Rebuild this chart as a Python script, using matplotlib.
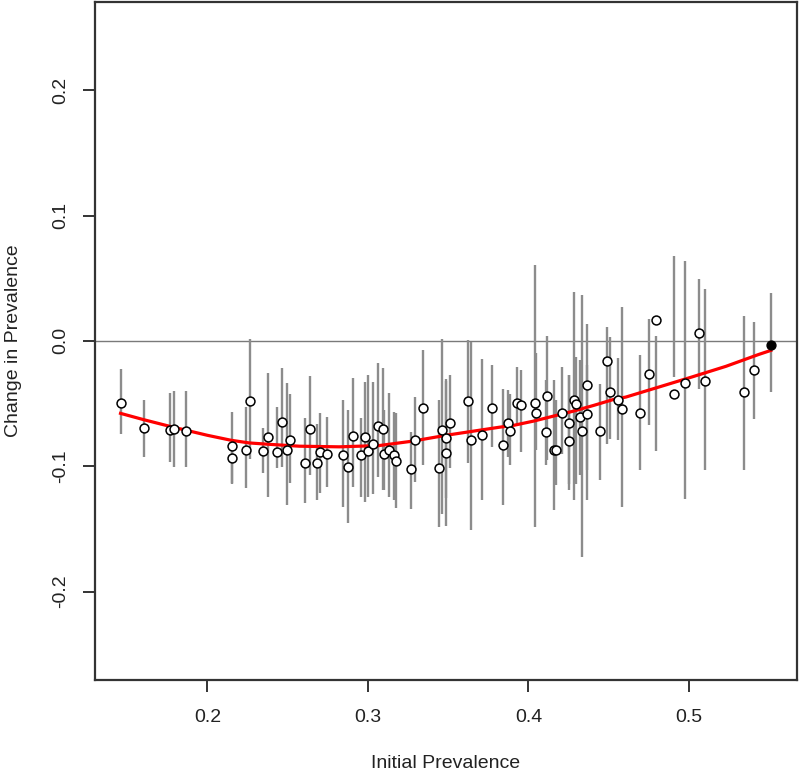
import matplotlib
matplotlib.use("Agg")
import matplotlib.pyplot as plt

plt.rcParams["font.family"] = ["Liberation Sans", "DejaVu Sans"]

# initial prevalence per site
init_prev = [
    0.1463, 0.1604, 0.1768, 0.1795, 0.1867, 0.2154, 0.2154, 0.2268, 0.2243, 0.2344,
    0.2380, 0.2434, 0.2462, 0.2493, 0.2515, 0.2610, 0.2639, 0.2680, 0.2699, 0.2747,
    0.2844, 0.2873, 0.2907, 0.2954, 0.2981, 0.3002, 0.3033, 0.3060, 0.3091, 0.3099,
    0.3133, 0.3164, 0.3178, 0.3271, 0.3292, 0.3344, 0.3446, 0.3464, 0.3485, 0.3487,
    0.3510, 0.3626, 0.3643, 0.3709, 0.3772, 0.3844, 0.3873, 0.3884, 0.3927, 0.3956,
    0.4041, 0.4045, 0.4108, 0.4118, 0.4159, 0.4172, 0.4211, 0.4253, 0.4255, 0.4284,
    0.4294, 0.4321, 0.4332, 0.4367, 0.4367, 0.4446, 0.4491, 0.4506, 0.4559, 0.4584,
    0.4696, 0.4750, 0.4792, 0.4904, 0.4974, 0.5060, 0.5099, 0.5346, 0.5404, 0.5510,
]
# change in prevalence (point estimate)
change = [
    -0.0496, -0.0695, -0.0708, -0.0700, -0.0721, -0.0838, -0.0931, -0.0482, -0.0873, -0.0878,
    -0.0767, -0.0886, -0.0647, -0.0873, -0.0793, -0.0971, -0.0705, -0.0971, -0.0886, -0.0899,
    -0.0907, -0.1006, -0.0761, -0.0912, -0.0767, -0.0878, -0.0819, -0.0681, -0.0700, -0.0906,
    -0.0873, -0.0912, -0.0958, -0.1018, -0.0793, -0.0535, -0.1010, -0.0713, -0.0775, -0.0891,
    -0.0655, -0.0482, -0.0787, -0.0747, -0.0532, -0.0827, -0.0655, -0.0719, -0.0496, -0.0514,
    -0.0496, -0.0575, -0.0727, -0.0440, -0.0873, -0.0873, -0.0575, -0.0655, -0.0798, -0.0474,
    -0.0506, -0.0607, -0.0721, -0.0355, -0.0586, -0.0719, -0.0161, -0.0408, -0.0469, -0.0546,
    -0.0575, -0.0261, 0.0163, -0.0426, -0.0336, 0.0062, -0.0323, -0.0408, -0.0235, -0.0030,
]
# interval bounds
change_hi = [
    -0.0222, -0.0474, -0.0416, -0.0400, -0.0400, -0.0567, -0.0780, 0.0018, -0.0530, -0.0697,
    -0.0257, -0.0530, -0.0219, -0.0339, -0.0426, -0.0615, -0.0283, -0.0665, -0.0578, -0.0607,
    -0.0474, -0.0554, -0.0299, -0.0615, -0.0328, -0.0275, -0.0328, -0.0179, -0.0219, -0.0554,
    -0.0418, -0.0567, -0.0578, -0.0727, -0.0448, -0.0076, -0.0474, 0.0018, -0.0301, -0.0320,
    -0.0275, 0.0004, -0.0010, -0.0142, -0.0195, -0.0381, -0.0394, -0.0421, -0.0209, -0.0235,
    0.0602, -0.0100, -0.0315, 0.0036, -0.0315, -0.0474, -0.0209, -0.0275, -0.0275, 0.0389,
    -0.0129, -0.0155, 0.0363, 0.0137, -0.0195, -0.0341, 0.0110, 0.0030, -0.0139, 0.0269,
    -0.0116, 0.0177, 0.0036, 0.0681, 0.0636, 0.0496, 0.0416, 0.0195, 0.0150, 0.0384,
]
change_lo = [
    -0.0739, -0.0928, -0.0966, -0.1006, -0.1006, -0.1133, -0.1140, -0.0939, -0.1175, -0.1056,
    -0.1245, -0.1016, -0.1006, -0.1311, -0.1133, -0.1297, -0.1072, -0.1271, -0.1215, -0.1165,
    -0.1324, -0.1454, -0.1165, -0.1245, -0.1284, -0.1245, -0.1218, -0.1085, -0.1191, -0.1191,
    -0.1245, -0.1271, -0.1335, -0.1337, -0.1125, -0.0992, -0.1484, -0.1377, -0.1257, -0.1480,
    -0.1016, -0.0976, -0.1510, -0.1271, -0.0846, -0.1311, -0.0926, -0.0992, -0.0660, -0.0886,
    -0.1484, -0.0873, -0.0992, -0.0952, -0.1351, -0.1151, -0.0899, -0.1191, -0.1138, -0.1271,
    -0.1138, -0.1072, -0.1723, -0.1271, -0.1032, -0.1112, -0.0819, -0.0779, -0.0793, -0.1324,
    -0.1032, -0.0673, -0.0878, -0.0288, -0.1265, -0.0381, -0.1026, -0.1026, -0.0620, -0.0408,
]

# smoothed trend
trend_x = [0.1459, 0.1602, 0.1764, 0.2000, 0.2149, 0.2261, 0.2386, 0.2573, 0.2821, 0.3070,
           0.3276, 0.3487, 0.3693, 0.3817, 0.3910, 0.4035, 0.4159, 0.4284, 0.4408, 0.4533,
           0.4607, 0.4813, 0.5018, 0.5230, 0.5435, 0.5510]
trend_y = [-0.0578, -0.0628, -0.0681, -0.0753, -0.0793, -0.0814, -0.0825, -0.0840, -0.0845, -0.0835,
           -0.0800, -0.0753, -0.0713, -0.0689, -0.0673, -0.0639, -0.0599, -0.0559, -0.0514, -0.0466,
           -0.0448, -0.0368, -0.0288, -0.0203, -0.0108, -0.0076]

y_ticks = [-0.2, -0.1, 0.0, 0.1, 0.2]
x_ticks = [0.2, 0.3, 0.4, 0.5]

fig = plt.figure(figsize=(8, 7.76), dpi=100)
ax = fig.add_axes([0.119, 0.1237, 0.877, 0.874])

ax.axhline(0, color="#7a7a7a", linewidth=1.0, zorder=1)
ax.vlines(init_prev, change_lo, change_hi, color="#8c8c8c", linewidth=1.7, zorder=2)
ax.plot(trend_x, trend_y, color="#ff0000", linewidth=2.3, zorder=3)
ax.plot(init_prev[:-1], change[:-1], linestyle="none", marker="o", markersize=6.4,
        markerfacecolor="white", markeredgecolor="black", markeredgewidth=1.1, zorder=4)
ax.plot(init_prev[-1:], change[-1:], linestyle="none", marker="o", markersize=6.4,
        markerfacecolor="black", markeredgecolor="black", zorder=4)

lo, hi = min(init_prev), max(init_prev)
pad = 0.04 * (hi - lo)
ax.set_xlim(lo - pad, hi + pad)
ax.set_ylim(-0.2705, 0.2705)

ax.set_xticks(x_ticks)
ax.set_xticklabels([f"{t:.1f}" for t in x_ticks])
ax.set_yticks(y_ticks)
ax.set_yticklabels([f"{t:.1f}" for t in y_ticks], rotation=90, va="center")
ax.tick_params(axis="both", length=8.6, width=1.4, color="#333333", labelsize=14,
               labelcolor="#222222")
ax.tick_params(axis="x", pad=12)
ax.tick_params(axis="y", pad=10)

for s in ax.spines.values():
    s.set_color("#333333")
    s.set_linewidth(1.6)

ax.set_xlabel("Initial Prevalence", fontsize=14, color="#222222")
ax.set_ylabel("Change in Prevalence", fontsize=14, color="#222222")
ax.xaxis.set_label_coords(0.5, -0.11)
ax.yaxis.set_label_coords(-0.105, 0.5)

fig.savefig("out.png", dpi=100)
